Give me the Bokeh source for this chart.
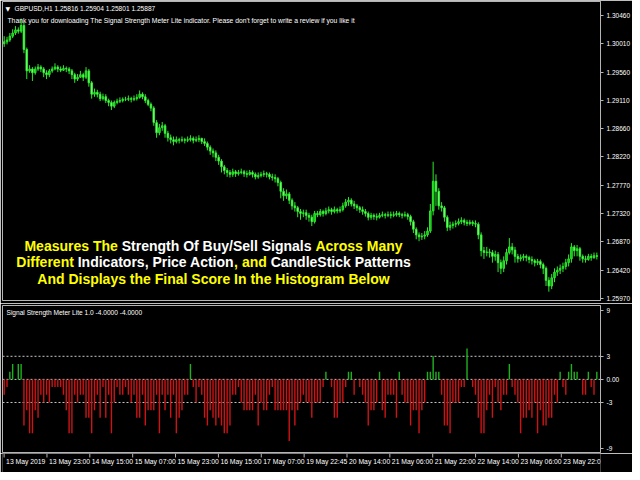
from bokeh.plotting import figure
from bokeh.models import Range1d, FixedTicker, PrintfTickFormatter, Span, Label
from bokeh.core.properties import value
from bokeh.layouts import column
from bokeh.embed import file_html
from bokeh.resources import INLINE

# ---------------- data ----------------
chart_title = "GBPUSD,H1  1.25816 1.25904 1.25801 1.25887"
chart_note = ("Thank you for downloading The Signal Strength Meter Lite indicator. "
              "Please don't forget to write a review if you like it")
indicator_title = "Signal Strength Meter Lite 1.0 -4.0000 -4.0000"

first_open = 1.3001
close_price = [
    1.3004, 1.3007, 1.3013, 1.3018, 1.3023, 1.3021, 1.3030, 1.2992, 1.2958, 1.2961,
    1.2955, 1.2961, 1.2964, 1.2961, 1.2955, 1.2952, 1.2958, 1.2961, 1.2964, 1.2961,
    1.2959, 1.2962, 1.2961, 1.2958, 1.2952, 1.2945, 1.2948, 1.2952, 1.2948, 1.2958,
    1.2939, 1.2921, 1.2924, 1.2921, 1.2914, 1.2917, 1.2911, 1.2908, 1.2902, 1.2908,
    1.2910, 1.2911, 1.2913, 1.2913, 1.2914, 1.2913, 1.2914, 1.2916, 1.2921, 1.2917,
    1.2911, 1.2905, 1.2899, 1.2876, 1.2860, 1.2868, 1.2871, 1.2859, 1.2852, 1.2849,
    1.2846, 1.2849, 1.2848, 1.2849, 1.2848, 1.2849, 1.2851, 1.2848, 1.2849, 1.2851,
    1.2846, 1.2843, 1.2837, 1.2831, 1.2828, 1.2821, 1.2815, 1.2806, 1.2800, 1.2797,
    1.2794, 1.2798, 1.2795, 1.2797, 1.2798, 1.2795, 1.2794, 1.2797, 1.2794, 1.2790,
    1.2792, 1.2794, 1.2795, 1.2794, 1.2790, 1.2789, 1.2787, 1.2781, 1.2767, 1.2760,
    1.2763, 1.2753, 1.2744, 1.2741, 1.2735, 1.2732, 1.2733, 1.2729, 1.2726, 1.2719,
    1.2732, 1.2730, 1.2735, 1.2732, 1.2736, 1.2738, 1.2735, 1.2738, 1.2736, 1.2738,
    1.2744, 1.2750, 1.2753, 1.2747, 1.2744, 1.2741, 1.2738, 1.2735, 1.2732, 1.2726,
    1.2729, 1.2727, 1.2726, 1.2729, 1.2730, 1.2729, 1.2730, 1.2729, 1.2730, 1.2732,
    1.2730, 1.2729, 1.2730, 1.2727, 1.2719, 1.2707, 1.2698, 1.2695, 1.2696, 1.2698,
    1.2704, 1.2736, 1.2783, 1.2767, 1.2744, 1.2741, 1.2726, 1.2710, 1.2713, 1.2715,
    1.2716, 1.2719, 1.2721, 1.2718, 1.2716, 1.2718, 1.2716, 1.2715, 1.2698, 1.2673,
    1.2670, 1.2671, 1.2670, 1.2664, 1.2667, 1.2654, 1.2645, 1.2657, 1.2670, 1.2679,
    1.2674, 1.2664, 1.2660, 1.2662, 1.2664, 1.2662, 1.2659, 1.2657, 1.2654, 1.2656,
    1.2651, 1.2645, 1.2626, 1.2617, 1.2630, 1.2639, 1.2642, 1.2645, 1.2648, 1.2654,
    1.2660, 1.2679, 1.2673, 1.2676, 1.2664, 1.2660, 1.2659, 1.2664, 1.2662, 1.2665,
    1.2664]
high_price = [
    1.3013, 1.3012, 1.3018, 1.3024, 1.3029, 1.3027, 1.3041, 1.3035, 1.2995, 1.2967,
    1.2964, 1.2965, 1.2969, 1.2967, 1.2964, 1.2959, 1.2961, 1.2965, 1.2970, 1.2967,
    1.2965, 1.2967, 1.2965, 1.2964, 1.2961, 1.2955, 1.2953, 1.2958, 1.2955, 1.2964,
    1.2961, 1.2942, 1.2930, 1.2928, 1.2925, 1.2922, 1.2921, 1.2914, 1.2911, 1.2911,
    1.2914, 1.2916, 1.2916, 1.2917, 1.2919, 1.2917, 1.2919, 1.2921, 1.2927, 1.2924,
    1.2921, 1.2914, 1.2908, 1.2902, 1.2880, 1.2874, 1.2877, 1.2874, 1.2863, 1.2857,
    1.2854, 1.2854, 1.2852, 1.2854, 1.2852, 1.2854, 1.2856, 1.2854, 1.2854, 1.2856,
    1.2852, 1.2851, 1.2846, 1.2840, 1.2835, 1.2832, 1.2825, 1.2818, 1.2809, 1.2804,
    1.2801, 1.2803, 1.2801, 1.2801, 1.2803, 1.2801, 1.2800, 1.2801, 1.2800, 1.2797,
    1.2797, 1.2798, 1.2800, 1.2798, 1.2797, 1.2795, 1.2794, 1.2790, 1.2784, 1.2772,
    1.2770, 1.2766, 1.2756, 1.2750, 1.2744, 1.2739, 1.2738, 1.2738, 1.2733, 1.2730,
    1.2736, 1.2736, 1.2739, 1.2738, 1.2741, 1.2743, 1.2741, 1.2743, 1.2741, 1.2743,
    1.2749, 1.2755, 1.2758, 1.2756, 1.2752, 1.2747, 1.2744, 1.2743, 1.2739, 1.2735,
    1.2733, 1.2732, 1.2732, 1.2733, 1.2735, 1.2733, 1.2735, 1.2735, 1.2735, 1.2736,
    1.2735, 1.2733, 1.2735, 1.2733, 1.2730, 1.2722, 1.2710, 1.2702, 1.2701, 1.2704,
    1.2710, 1.2747, 1.2814, 1.2794, 1.2772, 1.2750, 1.2744, 1.2729, 1.2719, 1.2719,
    1.2721, 1.2724, 1.2726, 1.2724, 1.2722, 1.2722, 1.2721, 1.2721, 1.2718, 1.2702,
    1.2679, 1.2679, 1.2676, 1.2674, 1.2673, 1.2671, 1.2659, 1.2664, 1.2676, 1.2693,
    1.2685, 1.2679, 1.2668, 1.2667, 1.2668, 1.2667, 1.2665, 1.2664, 1.2660, 1.2660,
    1.2659, 1.2654, 1.2648, 1.2631, 1.2636, 1.2645, 1.2648, 1.2651, 1.2654, 1.2660,
    1.2667, 1.2685, 1.2682, 1.2682, 1.2679, 1.2667, 1.2665, 1.2668, 1.2668, 1.2670,
    1.2670]
low_price = [
    1.2996, 1.3000, 1.3004, 1.3010, 1.3015, 1.3017, 1.3018, 1.2986, 1.2945, 1.2955,
    1.2942, 1.2952, 1.2958, 1.2956, 1.2948, 1.2945, 1.2948, 1.2955, 1.2959, 1.2956,
    1.2956, 1.2958, 1.2956, 1.2953, 1.2945, 1.2939, 1.2942, 1.2947, 1.2942, 1.2945,
    1.2933, 1.2914, 1.2917, 1.2916, 1.2910, 1.2911, 1.2907, 1.2902, 1.2896, 1.2899,
    1.2905, 1.2907, 1.2908, 1.2910, 1.2910, 1.2908, 1.2910, 1.2911, 1.2914, 1.2913,
    1.2907, 1.2902, 1.2894, 1.2871, 1.2852, 1.2856, 1.2863, 1.2852, 1.2846, 1.2843,
    1.2840, 1.2843, 1.2843, 1.2845, 1.2843, 1.2845, 1.2846, 1.2843, 1.2845, 1.2845,
    1.2842, 1.2839, 1.2832, 1.2825, 1.2821, 1.2815, 1.2809, 1.2797, 1.2794, 1.2790,
    1.2789, 1.2790, 1.2790, 1.2792, 1.2794, 1.2790, 1.2789, 1.2792, 1.2789, 1.2786,
    1.2787, 1.2789, 1.2790, 1.2789, 1.2786, 1.2784, 1.2781, 1.2775, 1.2756, 1.2752,
    1.2755, 1.2747, 1.2738, 1.2735, 1.2726, 1.2722, 1.2726, 1.2722, 1.2719, 1.2712,
    1.2716, 1.2726, 1.2727, 1.2727, 1.2729, 1.2732, 1.2730, 1.2732, 1.2732, 1.2733,
    1.2735, 1.2741, 1.2744, 1.2743, 1.2739, 1.2736, 1.2733, 1.2730, 1.2727, 1.2721,
    1.2722, 1.2722, 1.2721, 1.2724, 1.2726, 1.2724, 1.2726, 1.2724, 1.2726, 1.2727,
    1.2726, 1.2724, 1.2726, 1.2722, 1.2713, 1.2701, 1.2691, 1.2688, 1.2690, 1.2691,
    1.2695, 1.2701, 1.2729, 1.2744, 1.2738, 1.2735, 1.2719, 1.2704, 1.2705, 1.2708,
    1.2710, 1.2713, 1.2715, 1.2713, 1.2712, 1.2713, 1.2712, 1.2710, 1.2691, 1.2664,
    1.2660, 1.2664, 1.2662, 1.2654, 1.2657, 1.2639, 1.2636, 1.2639, 1.2651, 1.2667,
    1.2667, 1.2654, 1.2654, 1.2656, 1.2657, 1.2656, 1.2653, 1.2651, 1.2648, 1.2650,
    1.2645, 1.2636, 1.2617, 1.2608, 1.2612, 1.2623, 1.2633, 1.2636, 1.2639, 1.2643,
    1.2648, 1.2654, 1.2664, 1.2664, 1.2657, 1.2654, 1.2654, 1.2657, 1.2657, 1.2660,
    1.2659]

signal_score = [
    -2, -1, 1, 2, 0, 2, 2, -6, -4, -7, -7, -4, -5, -2, -3, -2, -3, -1, -1, -1,
    -1, -2, -4, -7, -7, -2, -3, -2, -2, -5, -5, -7, -4, -2, -5, -1, -5, -2, -7, -3,
    -1, -2, -2, -1, -2, -3, -2, -5, -5, -2, -6, -4, -4, -4, -2, -7, -2, -4, -2, -5,
    -2, -7, -5, -4, -2, -2, 2, -1, -3, -1, -2, -5, -6, -4, -5, -6, -5, -6, -7, -7,
    -6, -2, -2, -1, -3, -4, -4, -4, -4, -2, -6, -3, -4, -4, -2, -1, -4, -4, -4, -4,
    -4, -8, -4, -6, -4, -3, -2, -3, -3, -5, -3,
    -3, -3, -1, 1, 0, -1, -5, -5, -3, -3, -1, 1, 1, -2, 0, -1, -2, -3, -6, -4,
    -4, -3, 1, -4, -5, -2, -2, -2, -5, 1, -2, -3, -3, -6, -4, -4, -7, -4, -3, 1,
    1, 3, 1, 1, -2, -6, -6, -7, -3, -3, -3, -1, -1, 4, 0, -1, -2, -5, -7, -7,
    -4, -2, -5, -1, -3, -4, -2, -2, 2, -1, -2, -3, -7, -5, -5, -4, -5, -3, -7, -4,
    -6, -6, -5, -5, -2, -3, 1, -1, -2, 1, 2, 1, 1, 0, -2, -2, 1, -1, -2, 1]

time_tick_bars = [0, 16, 32, 48, 64, 80, 96, 112, 128, 144, 160, 176, 192, 208]
time_tick_labels = ["13 May 2019", "13 May 23:00", "14 May 15:00", "15 May 07:00",
                    "15 May 23:00", "16 May 15:00", "17 May 07:00", "19 May 22:45",
                    "20 May 14:00", "21 May 06:00", "21 May 22:00", "22 May 14:00",
                    "23 May 06:00", "23 May 22:00"]
price_ticks = [1.30460, 1.30010, 1.29560, 1.29110, 1.28660, 1.28220,
               1.27770, 1.27320, 1.26870, 1.26420, 1.25970]
score_ticks = [9, 3, 0, -3, -9]
score_tick_labels = ["9", "3", "0.00", "-3", "-9"]
score_levels = [3, 0, -3]

overlay_lines = [
    [("Measures The", "yellow"), (" Strength Of Buy/Sell Signals", "white"), (" Across Many", "yellow")],
    [("Different", "yellow"), (" Indicators, Price Action", "white"), (", and", "yellow"),
     (" CandleStick Patterns", "white")],
    [("And Displays the Final Score In the Histogram Below", "yellow")],
]

# ---------------- style / layout ----------------
W = 632
LEFT, RIGHT = 2, 32
BG = "#000000"
FRAME = "#b4b4b4"
TXT = "#ffffff"
YEL = "#ffff00"
FONT = "Liberation Sans"
CANDLE_LINE = "#2bea2b"
BULL_FILL = "#15b515"
BEAR_FILL = "#a8ffa8"
HIST_UP = "#1fb01f"
HIST_DN = "#cc1414"
COLORS = {"yellow": YEL, "white": TXT}

n = len(close_price)
bars = list(range(n))
open_price = [first_open] + close_price[:-1]

X0, X1 = -0.6, 211.3
xr = Range1d(X0, X1)
px_per_bar = (W - LEFT - RIGHT) / (X1 - X0)

common = dict(width=W, output_backend="svg", toolbar_location=None, tools="",
              min_border_left=LEFT, background_fill_color=BG, border_fill_color=BG)

# ---------------- price panel ----------------
P1_FRAME = 299
p1 = figure(height=303, x_range=xr, y_range=Range1d(1.2594, 1.3068), x_axis_location=None,
            y_axis_location="right", min_border_right=RIGHT, min_border_top=1,
            min_border_bottom=3, outline_line_color=FRAME, **common)
p1.grid.grid_line_color = None

p1.segment(x0=bars, y0=low_price, x1=bars, y1=high_price, line_color=CANDLE_LINE, line_width=1)
up = [i for i in bars if close_price[i] >= open_price[i]]
dn = [i for i in bars if close_price[i] < open_price[i]]
p1.vbar(x=up, width=0.55, top=[close_price[i] for i in up], bottom=[open_price[i] for i in up],
        fill_color=BULL_FILL, line_color=CANDLE_LINE, line_width=1)
p1.vbar(x=dn, width=0.55, top=[open_price[i] for i in dn], bottom=[close_price[i] for i in dn],
        fill_color=BEAR_FILL, line_color=CANDLE_LINE, line_width=1)


def style_right_axis(ax):
    ax.axis_line_color = FRAME
    ax.major_tick_line_color = FRAME
    ax.major_tick_out = 3
    ax.major_tick_in = 0
    ax.minor_tick_line_color = None
    ax.major_label_standoff = 3
    ax.major_label_text_color = TXT
    ax.major_label_text_font = FONT
    ax.major_label_text_font_size = "6.5px"


ya = p1.yaxis[0]
ya.ticker = FixedTicker(ticks=price_ticks)
ya.formatter = PrintfTickFormatter(format="%.5f")
style_right_axis(ya)


def screen_label(fig, text, x, y, size, color=TXT, bold=False, font=FONT):
    fig.add_layout(Label(x=x, y=y, x_units="screen", y_units="screen", text=text,
                         text_color=color, text_font=font, text_font_size=size,
                         text_font_style="bold" if bold else "normal",
                         text_align="left", text_baseline="middle"))


screen_label(p1, "\u25bc", 3, P1_FRAME - 7, "6px", font="DejaVu Sans")
screen_label(p1, chart_title, 12, P1_FRAME - 7, "6.6px")
screen_label(p1, chart_note, 5, P1_FRAME - 18.7, "6.75px")

# Arial Bold advance widths (per 1000 em) to lay out the multi-coloured lines
AB = {" ": 278, ",": 278, ".": 278, "/": 278, "-": 333,
      "A": 722, "B": 722, "C": 722, "D": 722, "E": 667, "F": 611, "G": 778, "H": 722,
      "I": 278, "J": 556, "K": 722, "L": 611, "M": 833, "N": 722, "O": 778, "P": 667,
      "Q": 778, "R": 722, "S": 667, "T": 611, "U": 722, "V": 667, "W": 944, "X": 667,
      "Y": 667, "Z": 611,
      "a": 556, "b": 611, "c": 556, "d": 611, "e": 556, "f": 333, "g": 611, "h": 611,
      "i": 278, "j": 278, "k": 556, "l": 278, "m": 889, "n": 611, "o": 611, "p": 611,
      "q": 611, "r": 389, "s": 556, "t": 333, "u": 611, "v": 556, "w": 778, "x": 556,
      "y": 556, "z": 500}
OV_SIZE = 14.0


def tw(s):
    return sum(AB.get(c, 556) for c in s) * OV_SIZE / 1000.0


ov_center = 211
ov_y = [55, 38.5, 22]
for segs, yy in zip(overlay_lines, ov_y):
    total = sum(tw(t) for t, _ in segs)
    x = ov_center - total / 2.0
    for t, c in segs:
        lead = len(t) - len(t.lstrip(" "))
        screen_label(p1, t.strip(), x + tw(t[:lead]), yy, "%.1fpx" % OV_SIZE,
                     color=COLORS[c], bold=True)
        x += tw(t)

# ---------------- indicator panel ----------------
P2_FRAME = 147
p2 = figure(height=150, x_range=xr, y_range=Range1d(-9.5, 9.6), x_axis_location=None,
            y_axis_location="right", min_border_right=RIGHT, min_border_top=2,
            min_border_bottom=1, outline_line_color=FRAME, **common)
p2.grid.grid_line_color = None

for lv in score_levels:
    p2.add_layout(Span(location=lv, dimension="width", line_color="#c8c8c8",
                       line_dash="2 2", line_width=1, level="underlay"))

pos = [i for i in bars if signal_score[i] > 0]
neg = [i for i in bars if signal_score[i] < 0]
p2.vbar(x=pos, width=0.5, top=[signal_score[i] for i in pos], bottom=0,
        fill_color=HIST_UP, line_color=None)
p2.vbar(x=neg, width=0.5, top=0, bottom=[signal_score[i] for i in neg],
        fill_color=HIST_DN, line_color=None)

ya2 = p2.yaxis[0]
ya2.ticker = FixedTicker(ticks=score_ticks)
ya2.major_label_overrides = dict(zip(score_ticks, score_tick_labels))
style_right_axis(ya2)

screen_label(p2, indicator_title, 4, P2_FRAME - 7, "6.6px")

# ---------------- time scale strip ----------------
x1_strip = X0 + (W - LEFT) / px_per_bar
p3 = figure(height=19, x_range=Range1d(X0, x1_strip), y_range=Range1d(0, 1),
            x_axis_location=None, y_axis_location=None, min_border_right=0,
            min_border_top=0, min_border_bottom=0, outline_line_color=None, **common)
p3.grid.grid_line_color = None
p3.segment(x0=time_tick_bars, y0=[1.0] * len(time_tick_bars), x1=time_tick_bars,
           y1=[0.79] * len(time_tick_bars), line_color=FRAME, line_width=1)
p3.text(x=time_tick_bars, y=[0.58] * len(time_tick_bars), text=time_tick_labels,
        x_offset=2, text_color=TXT, text_font=value(FONT), text_font_size="6.8px",
        text_align="left", text_baseline="middle")

layout = column(p1, p2, p3, spacing=0)
open("out.html", "w").write(file_html(layout, INLINE, title="GBPUSD H1 Signal Strength Meter"))
